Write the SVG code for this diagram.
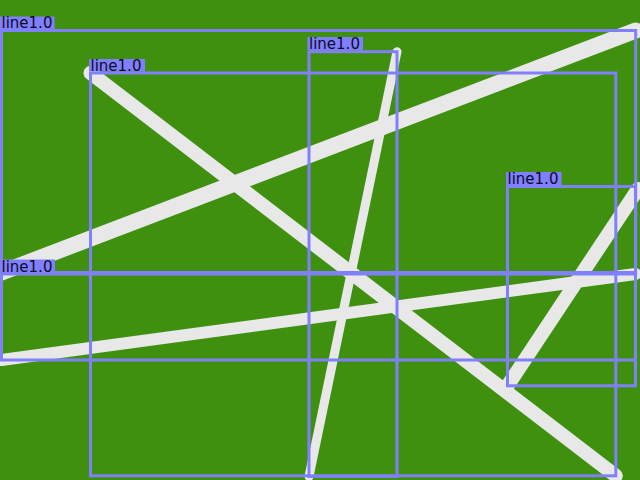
<svg xmlns="http://www.w3.org/2000/svg" width="640" height="480" viewBox="0 0 640 480">
<style>
.ln{stroke:#e8e8e8;stroke-linecap:round;fill:none}
.box{fill:none;stroke:#8080ff;stroke-width:3}
.lbl{fill:#8080ff}
.txt{font-family:"DejaVu Sans",sans-serif;font-size:15px;fill:#0c0c24}
</style>
<rect x="0" y="0" width="640" height="480" fill="#409010"/>
<g id="lines">
<line class="ln" x1="1.5" y1="272.5" x2="635.7" y2="30.5" stroke-width="16"/>
<line class="ln" x1="90.5" y1="73" x2="615.8" y2="475.8" stroke-width="14"/>
<line class="ln" x1="397" y1="51.7" x2="309" y2="476.5" stroke-width="9"/>
<line class="ln" x1="638" y1="189" x2="507.5" y2="385.8" stroke-width="14" stroke-linecap="butt"/>
<circle cx="507.5" cy="385.8" r="7" fill="#e8e8e8"/>
<line class="ln" x1="1.5" y1="360" x2="635.5" y2="274" stroke-width="12"/>
</g>
<g id="det1">
<rect class="box" x="1.5" y="30.5" width="634.2" height="242"/>
<rect class="lbl" x="0" y="16.5" width="54.5" height="12.5"/>
<text class="txt" x="1.5" y="28.3">line1.0</text>
</g>
<g id="det2">
<rect class="box" x="90.5" y="73" width="525.3" height="402.8"/>
<rect class="lbl" x="89" y="59" width="56" height="12.5"/>
<text class="txt" x="90.5" y="70.8">line1.0</text>
</g>
<g id="det3">
<rect class="box" x="309" y="51.7" width="88" height="424.8"/>
<rect class="lbl" x="307.5" y="37" width="55.5" height="13"/>
<text class="txt" x="309" y="49">line1.0</text>
</g>
<g id="det4">
<rect class="box" x="507.5" y="186.5" width="128" height="199.3"/>
<rect class="lbl" x="506" y="172" width="55.5" height="13"/>
<text class="txt" x="507.5" y="184">line1.0</text>
</g>
<g id="det5">
<rect class="box" x="1.5" y="274" width="634" height="86"/>
<rect class="lbl" x="0" y="259.5" width="55" height="13"/>
<text class="txt" x="1.5" y="271.5">line1.0</text>
</g>
</svg>
